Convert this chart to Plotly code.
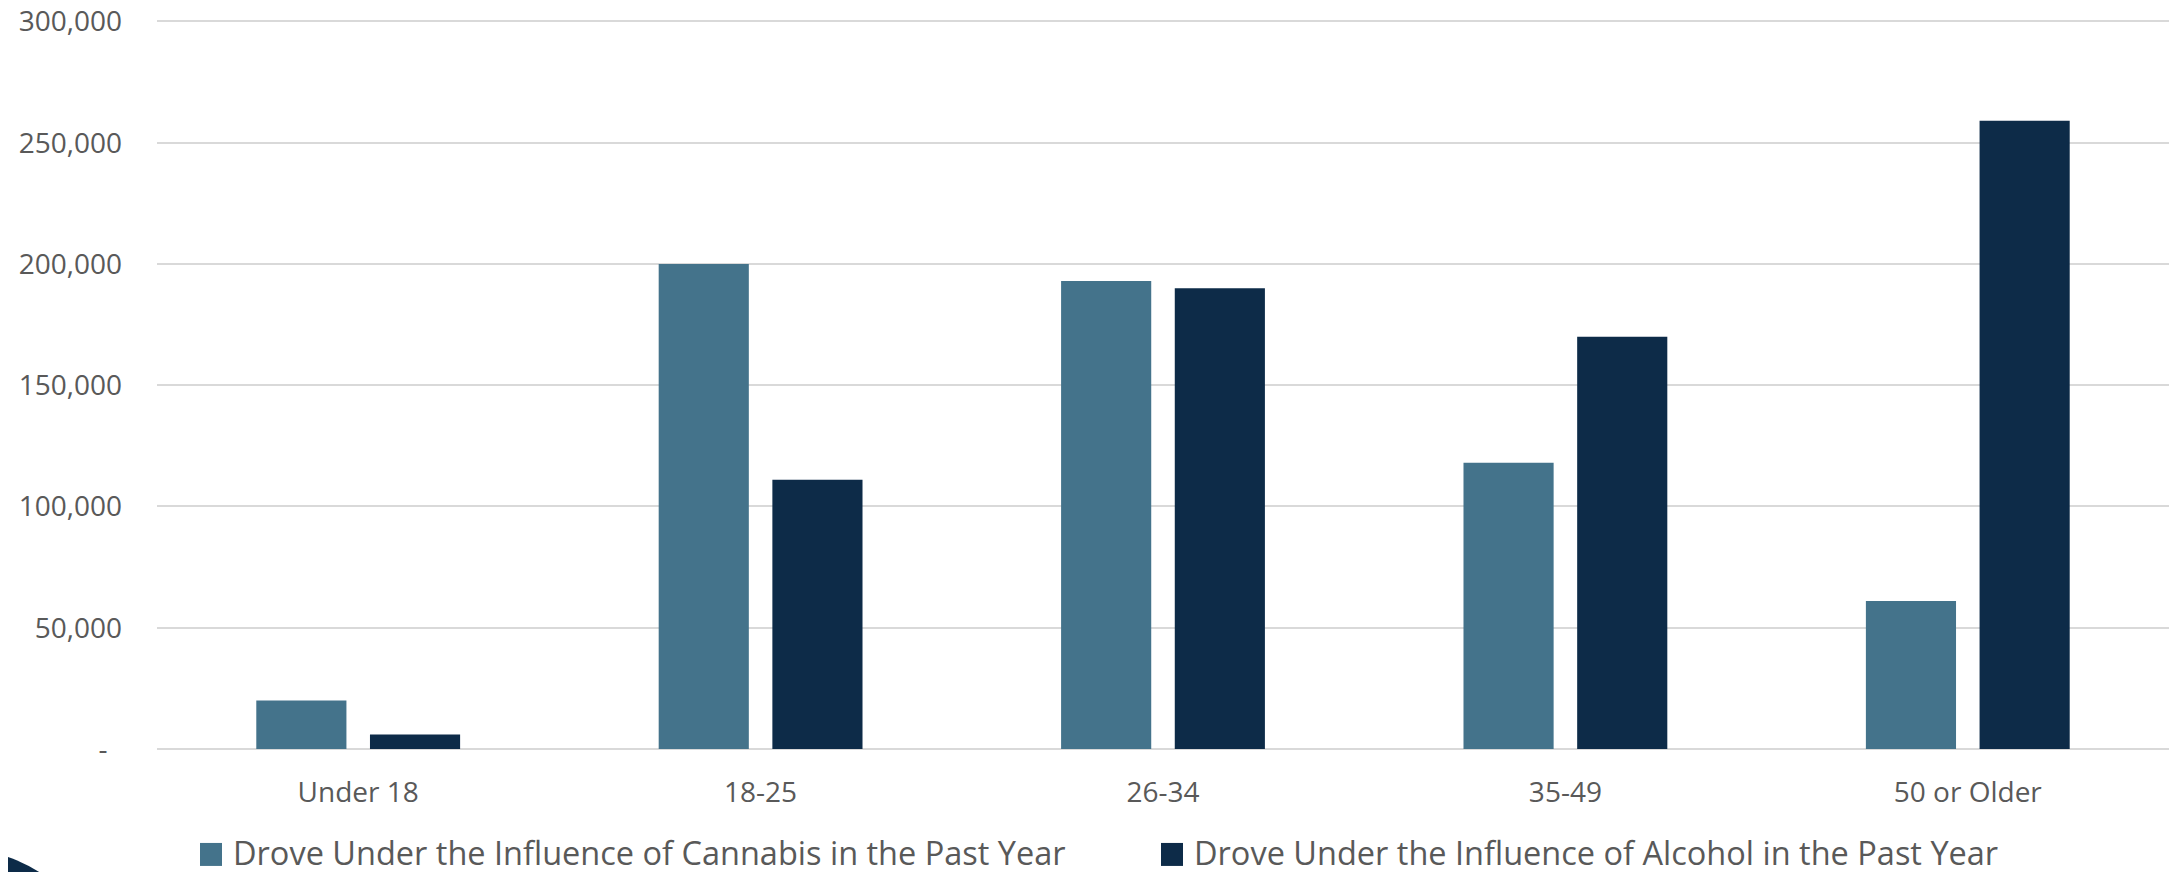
import plotly.graph_objects as go

categories = ["Under 18", "18-25", "26-34", "35-49", "50 or Older"]
cannabis = [20000, 200000, 193000, 118000, 61000]
alcohol = [6000, 111000, 190000, 170000, 259000]
series_names = ["Drove Under the Influence of Cannabis in the Past Year",
                "Drove Under the Influence of Alcohol in the Past Year"]
series_colors = ["#44738B", "#0D2B48"]
y_tickvals = [0, 50000, 100000, 150000, 200000, 250000, 300000]
y_ticktext = ["-\u00a0\u00a0", "50,000", "100,000", "150,000", "200,000", "250,000", "300,000"]
y_max = 301000

W, H = 2177, 872
OFF = 8  # default page body margin
L, R, T, B = 149, 16, 10.6, 131
pw = W - L - R
ph = H - T - B

def px_x(v):
    # page pixel -> paper coordinate
    return (v - OFF - L) / pw

def px_y(v):
    return (H - B - (v - OFF)) / ph

fig = go.Figure()
fig.add_trace(go.Bar(x=categories, y=cannabis, name=series_names[0],
                     marker=dict(color=series_colors[0], line=dict(width=0))))
fig.add_trace(go.Bar(x=categories, y=alcohol, name=series_names[1],
                     marker=dict(color=series_colors[1], line=dict(width=0))))

fig.update_layout(
    width=W, height=H,
    margin=dict(l=L, r=R, t=T, b=B, pad=0),
    paper_bgcolor="white", plot_bgcolor="white",
    barmode="group", bargap=0.435, bargroupgap=0.207,
    font=dict(family="Open Sans", color="#595959", size=28),
    xaxis=dict(showgrid=False, showline=False, zeroline=False, ticks="",
               automargin=False,
               tickfont=dict(size=28, color="#595959"), ticklabelstandoff=24),
    yaxis=dict(range=[0, y_max], tickvals=y_tickvals, ticktext=y_ticktext,
               automargin=False, ticklabeloverflow="allow",
               showgrid=True, gridcolor="#D9D9D9", gridwidth=2,
               zeroline=True, zerolinecolor="#D9D9D9", zerolinewidth=2,
               showline=False, ticks="", ticklabelstandoff=34,
               tickfont=dict(size=28, color="#595959")),
    showlegend=False,
)

# legend (drawn manually to match the reference swatch size)
legend_items = [(200, series_names[0], series_colors[0]),
                (1161, series_names[1], series_colors[1])]
for x0, name, col in legend_items:
    fig.add_shape(type="rect", xref="paper", yref="paper",
                  x0=px_x(x0), x1=px_x(x0 + 22), y0=px_y(843), y1=px_y(866),
                  fillcolor=col, line=dict(width=0))
    fig.add_annotation(text=name, xref="paper", yref="paper",
                       x=px_x(x0 + 31), y=px_y(853), xanchor="left", yanchor="middle",
                       showarrow=False, font=dict(size=32.5, color="#595959"))

fig.add_shape(type="circle", xref="paper", yref="paper",
              x0=px_x(-188), x1=px_x(108), y0=px_y(849), y1=px_y(1145),
              fillcolor="#0D2B48", line=dict(width=0), layer="above")

fig.write_html("out.html")
